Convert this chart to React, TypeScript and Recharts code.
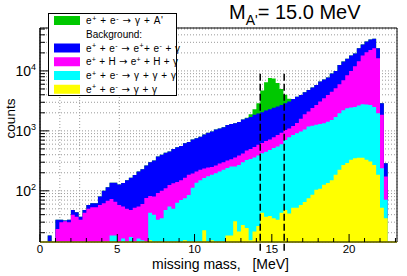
import { AreaChart, Area, XAxis, YAxis, CartesianGrid, ReferenceLine, ReferenceArea } from "recharts"

// histogram: 0.25 MeV bins starting at 0, values are the top of each stacked layer
const BIN_W = 0.25

const topGG = [
  0, 0, 0, 0, 0, 0, 0, 0, 0, 0, 0, 0, 0, 0, 0, 0, 0, 0, 0, 0,
  0, 0, 0, 0, 0, 0, 0, 0, 15, 0, 0, 0, 0, 0, 0, 0, 0, 15, 0, 0,
  0, 0, 22, 0, 15, 0, 0, 0, 18, 18, 31, 21, 27, 24, 15, 21, 26, 43, 37, 38,
  35, 33, 43, 48, 42, 52, 52, 58, 65, 75, 86, 104, 108, 126, 135, 150, 185, 224, 270, 290,
  330, 350, 355, 355, 330, 308, 270, 185, 52, 35,
]

const topGGG = [
  0, 0, 0, 0, 0, 0, 0, 0, 0, 0, 0, 0, 0, 0, 0, 0, 0, 0, 18, 18,
  0, 16, 0, 17, 0, 16, 15, 0, 43, 40, 33, 35, 48, 55, 50, 63, 70, 75, 85, 112,
  136, 150, 163, 175, 185, 197, 210, 224, 240, 254, 254, 270, 300, 328, 340, 360, 390, 425, 450, 480,
  520, 548, 600, 707, 780, 855, 915, 976, 1050, 1180, 1220, 1260, 1300, 1340, 1420, 1520, 1700, 1970, 2200, 2390,
  2450, 2500, 2650, 2780, 2750, 2700, 2500, 1970, 238, 71,
]

const topEH = [
  0, 0, 0, 0, 23, 30, 31, 30, 40, 37, 33, 43, 50, 53, 53, 58, 62, 68, 73, 66,
  58, 55, 50, 48, 52, 55, 60, 76, 82, 80, 92, 100, 110, 125, 134, 140, 150, 165, 185, 195,
  210, 225, 235, 245, 250, 265, 285, 300, 320, 335, 360, 390, 420, 470, 500, 540, 585, 630, 680, 720,
  780, 855, 930, 1030, 1100, 1200, 1350, 1600, 1900, 2100, 2400, 2700, 3100, 3500, 3980, 4500, 5140, 6000, 7000, 8500,
  10000, 12000, 14500, 18000, 20500, 22400, 24000, 16200, 1850, 173,
]

const topEEG = [
  0, 0, 18, 0, 33, 33, 32, 33, 48, 44, 37, 48, 58, 62, 62, 80, 100, 115, 136, 136,
  128, 135, 150, 165, 184, 210, 230, 265, 300, 320, 373, 400, 430, 451, 500, 533, 560, 620, 650, 720,
  752, 800, 870, 930, 976, 1050, 1100, 1150, 1250, 1300, 1340, 1400, 1550, 1620, 1700, 1850, 1950, 2050, 2180, 2300,
  2420, 2540, 2700, 2890, 3100, 3400, 3700, 3980, 4400, 4800, 5300, 5830, 6630, 7200, 7800, 9100, 10000, 12500, 14300, 16000,
  18000, 19600, 24000, 27500, 31000, 33500, 34500, 24000, 2890, 289,
]

// signal on top of the background (0 = nothing above background)
const topSignal = [
  0, 0, 0, 0, 0, 0, 0, 0, 0, 0, 0, 0, 0, 0, 0, 0, 0, 0, 0, 0,
  0, 0, 0, 0, 0, 0, 0, 0, 0, 0, 0, 0, 0, 0, 0, 0, 0, 0, 0, 0,
  0, 0, 0, 0, 0, 0, 0, 0, 0, 0, 0, 0, 1550, 1650, 1900, 2300, 2900, 4700, 6500, 7600,
  7500, 6300, 5000, 4000, 3450, 0, 0, 0, 0, 0, 0, 0, 0, 0, 0, 0, 0, 0, 0, 0,
  0, 0, 0, 0, 0, 0, 0, 0, 0, 0,
]

const X_TICKS = Array.from({ length: 24 }, (_, i) => i)
const Y_TICKS = [
  20, 30, 40, 50, 60, 70, 80, 90,
  100, 200, 300, 400, 500, 600, 700, 800, 900,
  1000, 2000, 3000, 4000, 5000, 6000, 7000, 8000, 9000,
  10000, 20000, 30000, 40000, 50000,
]
const CUT_LO = 14.25
const CUT_HI = 15.8

const FONT = "'Liberation Sans', Arial, Helvetica, sans-serif"
const W = 407
const H = 276

// empty bins go below the axis minimum and get clipped
const pos = (v: number) => (v > 0 ? v : 1)

const rows = topEEG.map((b, i) => ({
  x: i * BIN_W,
  gg: pos(topGG[i]),
  ggg: pos(topGGG[i]),
  eh: pos(topEH[i]),
  eeg: pos(b),
  sig: pos(Math.max(topSignal[i], b)),
}))
rows.push({ ...rows[rows.length - 1], x: rows.length * BIN_W })

const LAYERS = [
  { key: "sig", color: "#00c800" },
  { key: "eeg", color: "#0000ff" },
  { key: "eh", color: "#ff00ff" },
  { key: "ggg", color: "#00ffff" },
  { key: "gg", color: "#ffff00" },
]

function XTick({ x, y, payload }: any) {
  const v = payload.value
  const major = v % 5 === 0
  return (
    <g>
      <line x1={x} x2={x} y1={y} y2={y - (major ? 8 : 4)} stroke="#000" />
      {major && (
        <text x={x} y={y + 11} textAnchor="middle" fontSize={11.5} fontFamily={FONT} fill="#000">{v}</text>
      )}
    </g>
  )
}

function YTick({ x, y, payload }: any) {
  const v = payload.value
  const e = Math.log10(v)
  const major = Math.abs(e - Math.round(e)) < 1e-6
  return (
    <g>
      <line x1={x} x2={x + (major ? 9 : 5)} y1={y} y2={y} stroke="#000" />
      {major && (
        <text x={x - 4} y={y + 5} textAnchor="end" fontSize={14} fontFamily={FONT} fill="#000">
          10<tspan dy={-6} fontSize={9}>{Math.round(e)}</tspan>
        </text>
      )}
    </g>
  )
}

// "e^+" style superscripts, arrow taken from DejaVu (longer glyph)
function Formula({ x, y, s, len }: { x: number; y: number; s: string; len?: number }) {
  const parts = s.split(/(\^[+-]|→)/).filter(Boolean)
  let up = false
  return (
    <text x={x} y={y} fontSize={10} fontFamily={FONT} fill="#000" textLength={len} lengthAdjust={len ? "spacing" : undefined} style={{ whiteSpace: "pre" }}>
      {parts.map((p, i) => {
        if (p.startsWith("^")) {
          up = true
          return <tspan key={i} dy={-3.5} fontSize={7}>{p.slice(1)}</tspan>
        }
        const dy = up ? 3.5 : 0
        up = false
        if (p === "→") return <tspan key={i} dy={dy} fontFamily="'DejaVu Sans'">{p}</tspan>
        return <tspan key={i} dy={dy}>{p}</tspan>
      })}
    </text>
  )
}

const LEGEND = [
  { color: "#00c800", text: "e^+ + e^- → γ + A'", len: 77 },
  { color: null, text: "Background:", len: undefined },
  { color: "#0000ff", text: "e^+ + e^- → e^++ e^- + γ", len: 94 },
  { color: "#ff00ff", text: "e^+ + H → e^+ + H + γ", len: 92 },
  { color: "#00ffff", text: "e^+ + e^- → γ + γ + γ", len: 90 },
  { color: "#ffff00", text: "e^+ + e^- → γ + γ", len: 71 },
]

function Overlay() {
  return (
    <svg width={W} height={H} style={{ position: "absolute", left: 0, top: 0, pointerEvents: "none" }}>
      <text x={229} y={18.5} fontSize={20} fontFamily={FONT} fill="#000">
        M<tspan dy={6} fontSize={14}>A'</tspan><tspan dy={-6}>= 15.0 MeV</tspan>
      </text>
      <rect x={48.5} y={13.5} width={128} height={82} fill="#fff" stroke="#000" />
      {LEGEND.map((l, i) => {
        const cy = 20.5 + i * 13.75
        return (
          <g key={i}>
            {l.color && <rect x={54} y={cy - 4.5} width={26} height={9} fill={l.color} />}
            <Formula x={86} y={cy + 3.5} s={l.text} len={l.len} />
          </g>
        )
      })}
      <text x={220.5} y={268.5} textAnchor="middle" fontSize={14} fontFamily={FONT} fill="#000" style={{ whiteSpace: "pre" }}>
        missing mass,   [MeV]
      </text>
      <text x={15} y={118.5} textAnchor="middle" fontSize={13.5} fontFamily={FONT} fill="#000" transform="rotate(-90 15 118.5)">
        counts
      </text>
    </svg>
  )
}

export default function App() {
  return (
    <div style={{ position: "absolute", left: 0, top: 0, width: W, height: H, background: "#fff" }}>
      <AreaChart width={W} height={H} data={rows} margin={{ top: 28, right: 10, bottom: 0, left: 0 }}>
        <CartesianGrid xAxisId="g" stroke="#9a9a9a" strokeDasharray="1 2" />
        <XAxis
          dataKey="x"
          type="number"
          domain={[0, 23.1]}
          ticks={X_TICKS}
          interval={0}
          tickLine={false}
          tickSize={0}
          tickMargin={0}
          tick={XTick}
          axisLine={{ stroke: "#7a7a00", strokeWidth: 1.5 }}
          height={34}
        />
        <XAxis xAxisId="g" type="number" domain={[0, 23.1]} ticks={[5, 10, 15, 20]} hide />
        <YAxis
          scale="log"
          type="number"
          domain={[14, 52000]}
          allowDataOverflow
          ticks={Y_TICKS}
          interval={0}
          tickLine={false}
          tickSize={0}
          tickMargin={0}
          tick={YTick}
          axisLine={{ stroke: "#000" }}
          width={40}
        />
        {LAYERS.map(l => (
          <Area
            key={l.key}
            dataKey={l.key}
            type="stepAfter"
            stroke="none"
            fill={l.color}
            fillOpacity={1}
            dot={false}
            activeDot={false}
            isAnimationActive={false}
          />
        ))}
        <ReferenceArea x1={0} x2={23.1} y1={14} y2={52000} fill="none" stroke="#000" />
        {[CUT_LO, CUT_HI].map(c => (
          <ReferenceLine
            key={c}
            segment={[{ x: c, y: 10 }, { x: c, y: 10000 }]}
            ifOverflow="visible"
            stroke="#000"
            strokeWidth={1.5}
            strokeDasharray="7 3"
          />
        ))}
      </AreaChart>
      <Overlay />
    </div>
  )
}
